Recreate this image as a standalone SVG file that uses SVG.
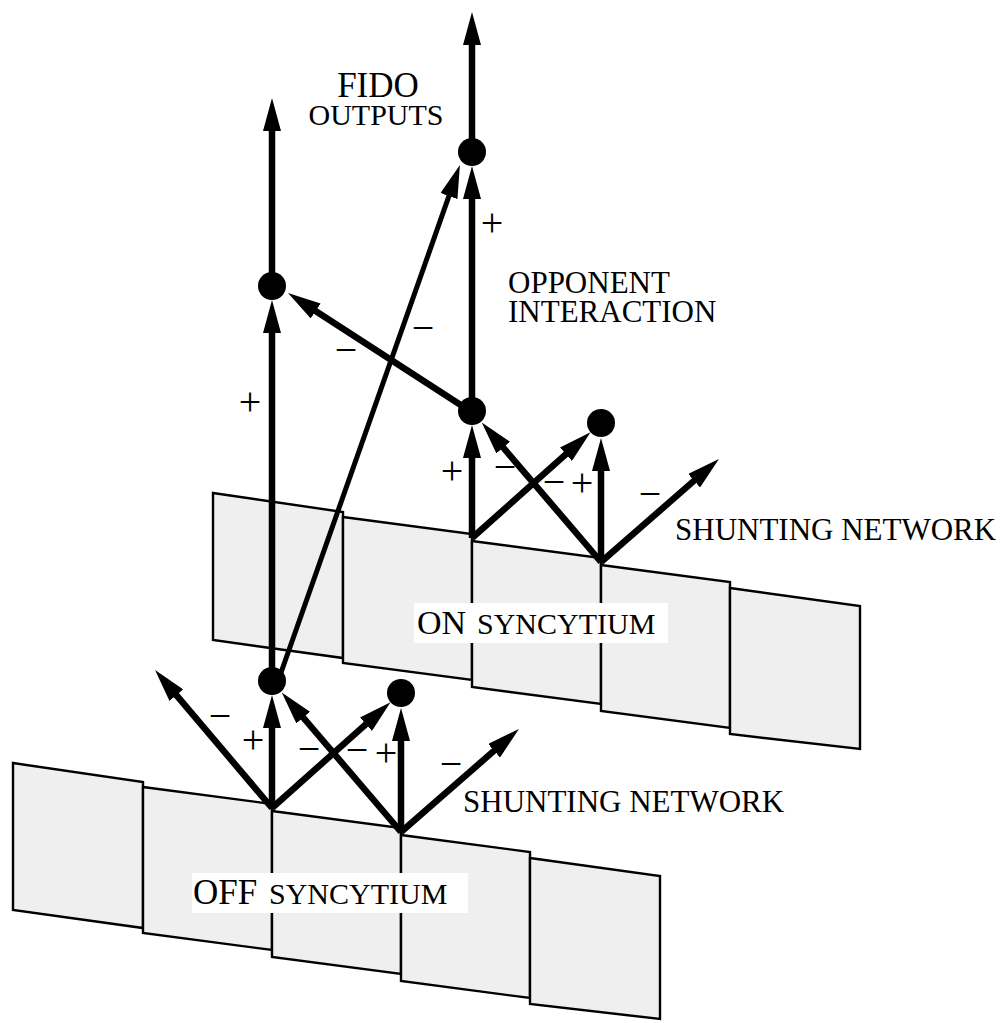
<svg xmlns="http://www.w3.org/2000/svg" width="1001" height="1023" viewBox="0 0 1001 1023">
<style>
.panel{fill:#efefef;stroke:#000;stroke-width:2.4;stroke-linejoin:miter}
.arr{stroke:#000;stroke-width:6.5;fill:none;marker-end:url(#ah)}
.thin{stroke-width:5}
.node{fill:#000}
.t{font-family:"Liberation Serif","Times New Roman",serif;fill:#000}
.lbl{font-family:"Liberation Serif","Times New Roman",serif;font-size:40px;fill:#000;text-anchor:middle}
.box{fill:#fff}
</style>
<defs>
<marker id="ah" markerUnits="userSpaceOnUse" markerWidth="33" markerHeight="18" viewBox="0 0 33 18" refX="2" refY="9" orient="auto">
<path d="M0,0 L33,9 L0,18 z" fill="#000"/>
</marker>
<g id="panels">
<polygon class="panel" points="13,763 143,782 143,928 13,910"/>
<polygon class="panel" points="143,787 272,804 272,950 143,933"/>
<polygon class="panel" points="272,811 401,828 401,974 272,957"/>
<polygon class="panel" points="401,835 530,852 530,998 401,981"/>
<polygon class="panel" points="530,858 660,876 660,1019 530,1004"/>
</g>
</defs>
<g id="on-syncytium">
<use href="#panels" transform="translate(200,-270)"/>
<rect class="box" x="414" y="603" width="254" height="40"/>
<text class="t" y="634"><tspan x="417" font-size="34">ON</tspan><tspan x="477" font-size="30">SYNCYTIUM</tspan></text>
</g>
<g id="off-syncytium">
<use href="#panels"/>
<rect class="box" x="192" y="873" width="276" height="40"/>
<text class="t" y="904"><tspan x="193" font-size="35">OFF</tspan><tspan x="269" font-size="30">SYNCYTIUM</tspan></text>
</g>
<g id="connectors">
<line class="arr" x1="272" y1="808" x2="175.1" y2="693.7"/>
<line class="arr" x1="272" y1="808" x2="272" y2="726"/>
<line class="arr" x1="272" y1="808" x2="367.4" y2="722.9"/>
<line class="arr" x1="401" y1="832" x2="301.9" y2="716"/>
<line class="arr" x1="401" y1="832" x2="401" y2="739"/>
<line class="arr" x1="401" y1="832" x2="495.6" y2="749.4"/>
<line class="arr" x1="472" y1="538" x2="472" y2="456"/>
<line class="arr" x1="472" y1="538" x2="567.4" y2="452.9"/>
<line class="arr" x1="601" y1="562" x2="501.9" y2="446"/>
<line class="arr" x1="601" y1="562" x2="601" y2="469"/>
<line class="arr" x1="601" y1="562" x2="695.6" y2="479.4"/>
<line class="arr" x1="272" y1="681" x2="272" y2="331"/>
<line class="arr" x1="272" y1="286" x2="272" y2="129"/>
<line class="arr thin" x1="277" y1="684" x2="449.6" y2="194.2"/>
<line class="arr" x1="470" y1="411" x2="314" y2="309.9"/>
<line class="arr" x1="472" y1="411" x2="472" y2="197"/>
<line class="arr" x1="472" y1="152" x2="472" y2="43"/>
</g>
<g id="node-top"><circle class="node" cx="472" cy="152" r="14"/></g>
<g id="node-upper-left"><circle class="node" cx="272" cy="286" r="14"/></g>
<g id="node-on-left"><circle class="node" cx="472" cy="411" r="14"/></g>
<g id="node-on-right"><circle class="node" cx="601" cy="423" r="14"/></g>
<g id="node-off-left"><circle class="node" cx="272" cy="681" r="14"/></g>
<g id="node-off-right"><circle class="node" cx="401" cy="693" r="14"/></g>
<g id="labels">
<text class="t" x="378" y="97" font-size="35" text-anchor="middle">FIDO</text>
<text class="t" x="376" y="125" font-size="30" text-anchor="middle">OUTPUTS</text>
<text class="t" x="508" y="293" font-size="31">OPPONENT</text>
<text class="t" x="508" y="322" font-size="31">INTERACTION</text>
<text class="t" x="675" y="540" font-size="31">SHUNTING NETWORK</text>
<text class="t" x="463" y="812" font-size="31">SHUNTING NETWORK</text>
<text class="lbl" x="220" y="729">−</text>
<text class="lbl" x="253" y="753">+</text>
<text class="lbl" x="309" y="762">−</text>
<text class="lbl" x="357" y="763">−</text>
<text class="lbl" x="386" y="766">+</text>
<text class="lbl" x="451" y="777">−</text>
<text class="lbl" x="452" y="484">+</text>
<text class="lbl" x="505" y="480">−</text>
<text class="lbl" x="554" y="495">−</text>
<text class="lbl" x="582" y="496">+</text>
<text class="lbl" x="650" y="507">−</text>
<text class="lbl" x="250" y="415">+</text>
<text class="lbl" x="346" y="363">−</text>
<text class="lbl" x="423" y="341">−</text>
<text class="lbl" x="492" y="236">+</text>
</g>
</svg>
